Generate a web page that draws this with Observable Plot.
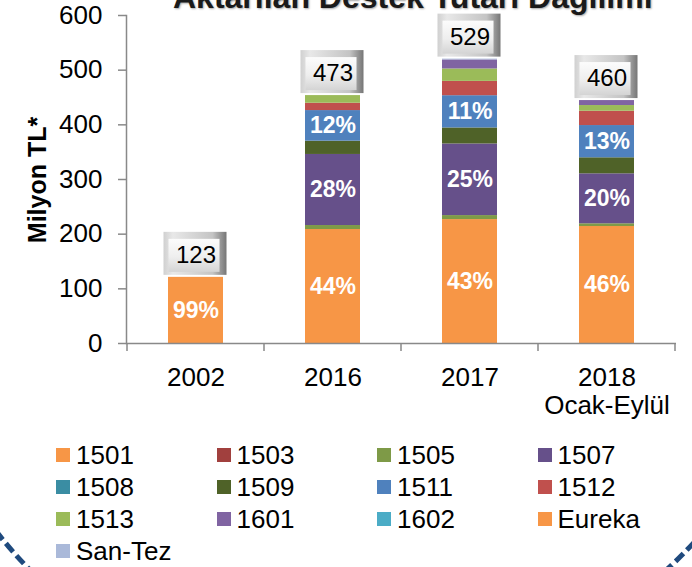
<!DOCTYPE html>
<html><head><meta charset="utf-8">
<script src="https://cdn.jsdelivr.net/npm/d3@7"></script>
<script src="https://cdn.jsdelivr.net/npm/@observablehq/plot@0.6"></script>
<style>
html,body{margin:0;padding:0;background:#fff;}
body{width:692px;height:567px;overflow:hidden;position:relative;font-family:"Liberation Sans",Arial,sans-serif;}
#chart{position:absolute;left:0;top:0;}
#title{position:absolute;left:173px;top:-19px;font-weight:bold;font-size:32px;line-height:32px;white-space:nowrap;color:#1a1a1a;text-shadow:1px 1px 2px rgba(0,0,0,.35);}
#ylabel{position:absolute;left:37px;top:180px;transform:translate(-50%,-50%) rotate(-90deg);font-weight:bold;font-size:25px;white-space:nowrap;color:#000;}
#legend{position:absolute;left:56px;top:439px;display:grid;grid-template-columns:repeat(4,160.5px);}
.item{height:32px;display:flex;align-items:center;font-size:26px;color:#000;}
.sw{width:14px;height:14px;margin-right:6px;flex:none;}
#deco{position:absolute;left:0;top:0;pointer-events:none;}
</style>
</head><body>
<div id="chart"></div>
<div id="title">Aktarılan Destek Tutarı Dağılımı</div>
<div id="ylabel">Milyon TL*</div>
<div id="legend"></div>
<svg id="deco" width="692" height="567">
  <path d="M -4 531 Q 12 552 32 572" fill="none" stroke="#1F4A7E" stroke-width="5" stroke-dasharray="11 5"/>
  <path d="M 664 572 Q 680 558 698 538" fill="none" stroke="#1F4A7E" stroke-width="5" stroke-dasharray="11 5"/>
</svg>
<script>
// ---- data ----
const years = ["2002", "2016", "2017", "2018"];
const yearLabels = ["2002", "2016", "2017", "2018\nOcak-Eylül"];
const series = ["1501","1503","1505","1507","1508","1509","1511","1512","1513","1601","1602","Eureka","San-Tez"];
const colors = ["#F79646","#A1403E","#7E9A47","#66508A","#3A8DA3","#4F6228","#4F81BD","#C0504D","#9BBB59","#8064A2","#4BACC6","#F79646","#AAB9D9"];
const v1501   = [121, 208.5, 226.7, 214];
const v1503   = [0, 0, 0, 0];
const v1505   = [0, 7.3, 7.3, 5];
const v1507   = [0, 130, 131, 91.4];
const v1508   = [0, 0, 0, 0];
const v1509   = [0, 24.3, 29.3, 29.3];
const v1511   = [0, 56, 59, 59];
const v1512   = [0, 13.4, 26.2, 26.2];
const v1513   = [0, 14, 22.7, 10.4];
const v1601   = [0, 0, 16.5, 9.1];
const v1602   = [0, 0, 0, 0];
const vEureka = [0, 0, 0, 0];
const vSanTez = [0, 0, 1.5, 0];
const totals  = [123, 473, 529, 460];
const pct1501 = ["99%", "44%", "43%", "46%"];
const pct1507 = ["", "28%", "25%", "20%"];
const pct1511 = ["", "12%", "11%", "13%"];

const seriesValues = [v1501,v1503,v1505,v1507,v1508,v1509,v1511,v1512,v1513,v1601,v1602,vEureka,vSanTez];
const pctBySeries = {"1501": pct1501, "1507": pct1507, "1511": pct1511};

const rows = [];
series.forEach((s, i) => years.forEach((y, j) => {
  rows.push({year: y, series: s, value: seriesValues[i][j], pct: (pctBySeries[s] || [])[j] || ""});
}));
const tops = years.map((y, j) => d3.sum(seriesValues, v => v[j]));

const axisGray = "#898989";
const plot = Plot.plot({
  width: 692,
  height: 420,
  marginTop: 15,
  marginBottom: 77,
  marginLeft: 126,
  marginRight: 16,
  style: {fontFamily: "Liberation Sans, Arial, sans-serif", background: "transparent"},
  x: {domain: years, paddingInner: 0.6, paddingOuter: 0.3, label: null},
  y: {domain: [0, 600], label: null},
  color: {domain: series, range: colors},
  marks: [
    Plot.barY(rows, {x: "year", y: "value", fill: "series", filter: d => d.value > 0}),
    Plot.text(rows, Plot.stackY({x: "year", y: "value", text: "pct", fill: "white", fontWeight: "bold", fontSize: 23})),
    Plot.ruleY([0], {stroke: axisGray, strokeWidth: 1.5}),
    Plot.frame({anchor: "left", stroke: axisGray, strokeWidth: 1.5}),
    Plot.axisY({ticks: [0,100,200,300,400,500,600], tickSize: 8, tickPadding: 16, fontSize: 26, stroke: axisGray, strokeWidth: 1.5, fill: "#000", label: null}),
    Plot.axisX({tickSize: 0, tickPadding: 22, fontSize: 26, fill: "#000", lineHeight: 1.1, tickFormat: d => yearLabels[years.indexOf(d)], label: null}),
    Plot.text(years, {x: d => d, y: (d, i) => tops[i], text: (d, i) => String(totals[i]), dy: -22, fontSize: 24, fill: "#000"})
  ]
});
document.getElementById("chart").appendChild(plot);

// decorations derived from the plot's scales
const sx = plot.scale("x"), sy = plot.scale("y");
const step = sx.step ?? sx.bandwidth / (1 - 0.6);
const svg = d3.select(plot);
const defs = svg.insert("defs", ":first-child");
const go = defs.append("linearGradient").attr("id", "gOuter").attr("x1", 0).attr("x2", 1).attr("y1", 0).attr("y2", 0);
[["0%","#d0d0d0"],["15%","#e8e8e8"],["78%","#c4c4c4"],["100%","#767676"]].forEach(([o,c]) => go.append("stop").attr("offset", o).attr("stop-color", c));
const gi = defs.append("linearGradient").attr("id", "gInner").attr("x1", 0).attr("x2", 0).attr("y1", 0).attr("y2", 1);
[["0%","#fcfcfc"],["55%","#eeeeee"],["100%","#d4d4d4"]].forEach(([o,c]) => gi.append("stop").attr("offset", o).attr("stop-color", c));

const boxG = document.createElementNS("http://www.w3.org/2000/svg", "g");
plot.insertBefore(boxG, plot.lastChild);
const bg = d3.select(boxG);
years.forEach((y, i) => {
  const cx = sx.apply(y) + sx.bandwidth / 2;
  const yt = sy.apply(tops[i]);
  bg.append("rect").attr("x", cx - 32).attr("y", yt - 45).attr("width", 63).attr("height", 43).attr("fill", "url(#gOuter)");
  bg.append("rect").attr("x", cx - 27).attr("y", yt - 38).attr("width", 51).attr("height", 33).attr("fill", "url(#gInner)");
});

// x-axis ticks at band boundaries
const y0 = sy.apply(0);
const bounds = years.map(y => sx.apply(y) - (step - sx.bandwidth) / 2);
bounds.push(bounds[bounds.length - 1] + step);
svg.append("g").selectAll("line").data(bounds).join("line")
  .attr("x1", d => d).attr("x2", d => d).attr("y1", y0).attr("y2", y0 + 8)
  .attr("stroke", axisGray).attr("stroke-width", 1.5);

// legend
const leg = d3.select("#legend");
series.forEach((s, i) => {
  const it = leg.append("div").attr("class", "item");
  it.append("div").attr("class", "sw").style("background", colors[i]);
  it.append("span").text(s);
});
</script>
</body></html>
